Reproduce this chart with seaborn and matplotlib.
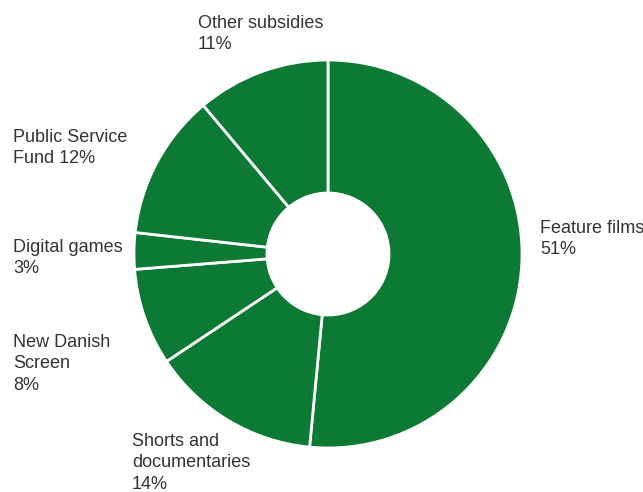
import numpy as np
import seaborn as sns
from matplotlib import pyplot as plt

# data, clockwise from 12 o'clock
categories = ['Feature films', 'Shorts and documentaries', 'New Danish Screen',
              'Digital games', 'Public Service Fund', 'Other subsidies']
shares = [51, 14, 8, 3, 12, 11]
label_text = ['Feature films\n51%', 'Shorts and\ndocumentaries\n14%', 'New Danish\nScreen\n8%',
              'Digital games\n3%', 'Public Service\nFund 12%', 'Other subsidies\n11%']
# label top-left corners in pixels (from top of image)
label_pos = [(540, 220), (132, 433), (13, 334), (13, 239), (13, 129), (198, 15)]

sns.set_theme(style='white')
plt.rcParams['font.family'] = ['Liberation Sans', 'DejaVu Sans']

W, H = 643, 492
fig = plt.figure(figsize=(W / 100, H / 100), dpi=100)
ax = fig.add_axes([0, 0, 1, 1])

green = '#0c7a34'
R, r_in = 194, 61
ax.pie(shares, colors=[green] * len(shares), startangle=90, counterclock=False,
       center=(328, H - 254), radius=R,
       wedgeprops=dict(width=R - r_in, edgecolor='white', linewidth=2))

for txt, (x, y) in zip(label_text, label_pos):
    ax.text(x, H - y, txt, ha='left', va='top', fontsize=13, color='#333333',
            linespacing=1.34)

ax.set_xlim(0, W)
ax.set_ylim(0, H)
ax.set_aspect('equal')
ax.axis('off')
fig.savefig('out.png', dpi=100)
